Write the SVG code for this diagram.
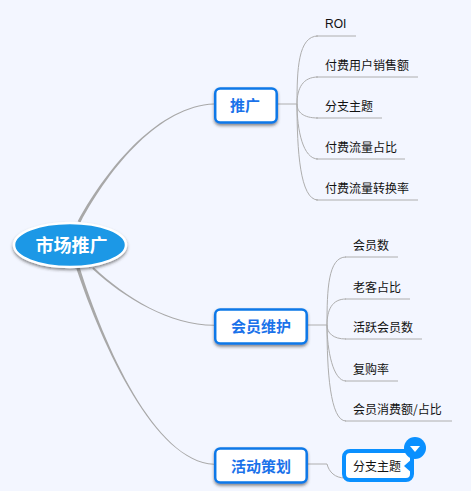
<svg xmlns="http://www.w3.org/2000/svg" width="471" height="491" viewBox="0 0 471 491">
<defs>
<filter id="sh" x="-20%" y="-30%" width="140%" height="170%"><feDropShadow dx="0" dy="2" stdDeviation="1.5" flood-color="#333" flood-opacity="0.55"/></filter>
</defs>
<style>
.bg{fill:#f3f6ff}
.thin{fill:none;stroke:#aeaeae;stroke-width:1}
.main{fill:#a8a8a8;stroke:none}
.topic{fill:#fff;stroke:#0a78e8;stroke-width:2.5;filter:url(#sh)}
.tt{font-family:"Noto Sans CJK SC","Liberation Sans",sans-serif;font-size:15px;font-weight:700;fill:#1a72ea;text-anchor:middle}
.lt{font-family:"Noto Sans CJK SC","Liberation Sans",sans-serif;font-size:12px;fill:#111}
.rt{font-family:"Noto Sans CJK SC","Liberation Sans",sans-serif;font-size:18px;font-weight:700;fill:#fff;text-anchor:middle}
</style>
<rect class="bg" width="471" height="491"/>
<g id="connectors">
<path class="main" d="M77.700 221.300C109 164.500 159.800 105.500 214 103.500L214 104.500C160.200 106.500 111 165.500 80.300 222.700Z"/>
<path class="main" d="M93.800 267.200C125.500 297.500 170 324.700 214 324.800L214 325.800C170 325.700 124.500 298.500 92.200 268.800Z"/>
<path class="main" d="M79.700 267.500C104 344.700 155 461.500 214 463.700L214 464.700C155 462.500 102 345.300 76.300 268.500Z"/>
<path class="thin" d="M277 104H297"/>
<path class="thin" d="M316 36H356M316 77H418M316 118H382M316 159H405M316 200H418"/>
<path class="thin" d="M297 104C297 70 298 36 318 36M297 104C297 88 303 77 318 77M297 104C297 112 303 118 318 118M297 104C297 130 303 159 318 159M297 104C297 150 300 200 318 200"/>
<path class="thin" d="M307 325H327"/>
<path class="thin" d="M345 257H398M345 299H410M345 339H422M345 381H398M345 421H452"/>
<path class="thin" d="M327 325C327 290 328 257 346 257M327 325C327 310 332 299 346 299M327 325C327 333 333 339 346 339M327 325C327 350 333 381 346 381M327 325C327 370 330 421 346 421"/>
<path class="thin" d="M307 464H327C329 472 335 478 345 478"/>
</g>
<g id="root">
<ellipse cx="70" cy="245" rx="56" ry="22" fill="#1a98e6" stroke="#fff" stroke-width="2.500" filter="url(#sh)"/>
<text class="rt" x="71.500" y="252">市场推广</text>
</g>
<g id="n-tuiguang">
<rect class="topic" x="215.200" y="88.500" width="61.500" height="34" rx="5"/>
<text class="tt" x="245" y="111">推广</text>
</g>
<g id="n-huiyuan">
<rect class="topic" x="215.200" y="309.500" width="91.500" height="34" rx="5"/>
<text class="tt" x="261" y="332">会员维护</text>
</g>
<g id="n-huodong">
<rect class="topic" x="215.200" y="448.500" width="91.500" height="34" rx="5"/>
<text class="tt" x="261" y="472">活动策划</text>
</g>
<g id="l-roi"><text class="lt" x="325" y="28" style="font-family:'Liberation Sans',sans-serif">ROI</text></g>
<g id="l-fufei"><text class="lt" x="325" y="70">付费用户销售额</text></g>
<g id="l-fenzhi1"><text class="lt" x="325" y="111">分支主题</text></g>
<g id="l-zhanbi"><text class="lt" x="325" y="152">付费流量占比</text></g>
<g id="l-zhuanhua"><text class="lt" x="325" y="193">付费流量转换率</text></g>
<g id="l-huiyuanshu"><text class="lt" x="353" y="250">会员数</text></g>
<g id="l-laoke"><text class="lt" x="353" y="292">老客占比</text></g>
<g id="l-huoyue"><text class="lt" x="353" y="332">活跃会员数</text></g>
<g id="l-fugou"><text class="lt" x="353" y="374">复购率</text></g>
<g id="l-xiaofei"><text class="lt" x="353" y="414">会员消费额/占比</text></g>
<g id="l-fenzhi2">
<rect x="344" y="451" width="68" height="29" rx="6" fill="#fff" stroke="#0a90ff" stroke-width="4"/>
<path d="M413 458L404 466L413 474Z" fill="#0a90ff"/>
<circle cx="415" cy="448" r="11" fill="#0a90ff"/>
<path d="M410 446H420L415 452Z" fill="#fff"/>
<text class="lt" x="353" y="471">分支主题</text>
</g>
</svg>
